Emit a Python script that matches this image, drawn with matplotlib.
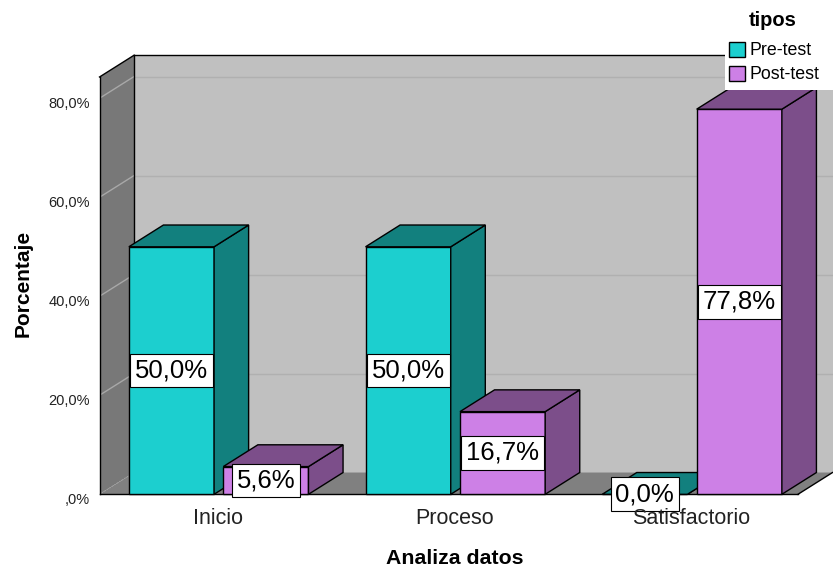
import numpy as np
import matplotlib
matplotlib.use('Agg')
import matplotlib.pyplot as plt
import matplotlib.transforms as mtransforms
from matplotlib.patches import Polygon, Rectangle, Patch
from matplotlib.ticker import FuncFormatter

plt.rcParams['font.family'] = ['Liberation Sans', 'DejaVu Sans']

# data
categories = ['Inicio', 'Proceso', 'Satisfactorio']
series_names = ['Pre-test', 'Post-test']
pre_test = [50.0, 50.0, 0.0]
post_test = [5.6, 16.7, 77.8]
y_ticks = [0, 20, 40, 60, 80]

# SPSS-ish colours
front_cols = ['#1ccfcf', '#cd80e6']
dark_cols = ['#12807e', '#7c4e8a']


def pct_label(v, short=False):
    s = ('%.1f' % v).replace('.', ',')
    if short and s.startswith('0,'):
        s = s[1:]
    return s + '%'


fig = plt.figure(figsize=(8.33, 5.69), dpi=100)
# y scale ~4.95 px per %, 0 at pixel 494
ax = fig.add_axes([99.5/833, 74.7/569, 733.5/833, 445.5/569])

x_lo, x_hi = -0.499, 2.600
y_top = 90
ax.set_xlim(x_lo, x_hi)
ax.set_ylim(0, y_top)
for s in ax.spines.values():
    s.set_visible(False)
ax.patch.set_visible(False)

# fake 3d depth (data units)
dx, dy = 0.146, 4.4
wall_top = 84.3
x_right = 2.452

# walls and floor
ax.add_patch(Polygon([(x_lo, 0), (x_lo+dx, dy), (x_lo+dx, wall_top+dy), (x_lo, wall_top)],
                     fc='#787878', ec='none', zorder=0))
ax.add_patch(Polygon([(x_lo+dx, dy), (x_hi+0.1, dy), (x_hi+0.1, wall_top+dy), (x_lo+dx, wall_top+dy)],
                     fc='#c0c0c0', ec='none', zorder=0))
ax.add_patch(Polygon([(x_lo, 0), (x_lo+dx, dy), (x_right+dx, dy), (x_right, 0)],
                     fc='#808080', ec='none', zorder=0.5, clip_on=False))

# gridlines on left + back wall
for v in y_ticks[1:]:
    ax.plot([x_lo, x_lo+dx], [v, v+dy], color='#a8a8a8', lw=1, zorder=0.6)
    ax.plot([x_lo+dx, x_hi], [v+dy, v+dy], color='#b0b0b0', lw=1, zorder=0.6)
ax.plot([x_lo, x_lo+dx], [0, dy], color='#a0a0a0', lw=0.8, ls=':', zorder=0.6)

# wall edges
edge = dict(color='black', lw=1, zorder=0.8, clip_on=False)
ax.plot([x_lo, x_lo], [0, wall_top], **edge)
ax.plot([x_lo, x_lo+dx], [wall_top, wall_top+dy], **edge)
ax.plot([x_lo+dx, x_lo+dx], [dy, wall_top+dy], **edge)
ax.plot([x_lo+dx, x_hi], [wall_top+dy, wall_top+dy], **edge)
ax.plot([x_lo, x_right], [0, 0], **edge)
ax.plot([x_right, x_right+dx], [0, dy], **edge)

bar_w = 0.36
offsets = [-0.375, 0.024]


def draw_bar(x0, h, front, dark):
    ax.add_patch(Rectangle((x0, 0), bar_w, h, fc=front, ec='black', lw=1, zorder=2, clip_on=False))
    ax.add_patch(Polygon([(x0+bar_w, 0), (x0+bar_w+dx, dy), (x0+bar_w+dx, h+dy), (x0+bar_w, h)],
                         fc=dark, ec='black', lw=1, zorder=2, clip_on=False))
    ax.add_patch(Polygon([(x0, h), (x0+dx, h+dy), (x0+bar_w+dx, h+dy), (x0+bar_w, h)],
                         fc=dark, ec='black', lw=1, zorder=2, clip_on=False))


for i in range(len(categories)):
    for j, vals in enumerate([pre_test, post_test]):
        draw_bar(i + offsets[j], vals[i], front_cols[j], dark_cols[j])

# value labels
for i in range(len(categories)):
    for j, vals in enumerate([pre_test, post_test]):
        ax.text(i + offsets[j] + bar_w/2, vals[i]/2, pct_label(vals[i]),
                ha='center', va='center', fontsize=18.5, zorder=5,
                bbox=dict(boxstyle='square,pad=0.19', fc='white', ec='black', lw=0.8))

ax.set_xticks(range(len(categories)), categories)
ax.tick_params(axis='x', length=0, pad=10, labelsize=15.5, labelcolor='#222222')
ax.set_yticks(y_ticks)
ax.yaxis.set_major_formatter(FuncFormatter(lambda v, p: pct_label(v, short=True)))
ax.tick_params(axis='y', length=0, pad=7, labelsize=10.5, labelcolor='#222222')
ax.xaxis.set_zorder(10)
# spss puts the tick text a hair below the gridline
shift = mtransforms.ScaledTranslation(0, -3/72, fig.dpi_scale_trans)
for lab in ax.get_yticklabels():
    lab.set_transform(lab.get_transform() + shift)

ax.set_xlabel('Analiza datos', fontsize=15.3, fontweight='bold')
ax.xaxis.set_label_coords(0.484, -0.122)
ax.set_ylabel('Porcentaje', fontsize=15, fontweight='bold')
ax.yaxis.set_label_coords(-0.091, 0.474)

# legend: white block, bold title text, then the items
fig.patches.append(Rectangle((725/833, 1 - 90/569), 108/833, 52/569, transform=fig.transFigure,
                             fc='white', ec='none', zorder=3))
fig.text(773/833, 1 - 20/569, 'tipos', ha='center', va='center', fontsize=14.5, fontweight='bold')
handles = [Patch(fc=front_cols[k], ec='black', lw=1) for k in range(2)]
fig.legend(handles, series_names, loc='upper left', bbox_to_anchor=(725/833, 1 - 38/569),
           fontsize=12.8, frameon=False,
           handlelength=0.95, handleheight=0.95,
           handletextpad=0.25, labelspacing=0.35, borderpad=0.2, borderaxespad=0)

plt.savefig('out.png', dpi=100)
